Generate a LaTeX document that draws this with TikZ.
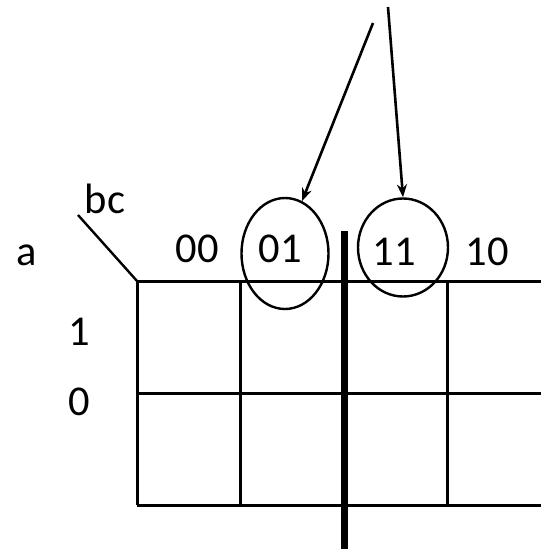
\documentclass[tikz,border=0pt]{standalone}
\usepackage{fontspec}
\setmainfont{Carlito}
\usetikzlibrary{arrows.meta, shapes.geometric}

\begin{document}
\begin{tikzpicture}[x=1pt, y=-1pt, >={Stealth[length=13pt,width=10pt]},
  lbl/.style={anchor=base, inner sep=0pt, font=\fontsize{42.5}{50}\selectfont},
  grp/.style={draw, ellipse, line width=2.4pt, inner sep=0pt}]
  \useasboundingbox (0,0) rectangle (541,549);
  % grid of the map
  \draw[line width=3pt] (137,281) -- (541,281);
  \draw[line width=3pt] (137,393) -- (541,393);
  \draw[line width=3pt] (137,505) -- (541,505);
  \foreach \x in {137,240,447}
    \draw[line width=3pt] (\x,281) -- (\x,505);
  % split between 01 and 11
  \draw[line width=7pt] (344,231) -- (344,549);
  % corner label
  \coordinate (corner) at (137,281);
  \coordinate (slant) at (78,215);
  \draw[line width=2.4pt] (slant) -- (corner);
  \node[lbl] (lblbc) at (105,213) {bc};
  \node[lbl] (lbla) at (27,265) {a};
  % column and row labels
  \node[lbl] (col00) at (197,262) {00};
  \node[lbl] (col01) at (280,262) {01};
  \node[lbl] (col11) at (394,265) {11};
  \node[lbl] (col10) at (487,265) {10};
  \node[lbl] (row1) at (79,345) {1};
  \node[lbl] (row0) at (79,415) {0};
  % circled columns
  \node[grp, minimum width=87pt, minimum height=111pt] (c01) at (285,253.5) {};
  \node[grp, minimum width=90pt, minimum height=98pt] (c11) at (403,247.5) {};
  \coordinate (s1) at (373,23);
  \coordinate (s2) at (388,7);
  \draw[->, line width=2.6pt] (s1) -- (c01.72);
  \draw[->, line width=2.6pt] (s2) -- (c11.north);
\end{tikzpicture}
\end{document}
